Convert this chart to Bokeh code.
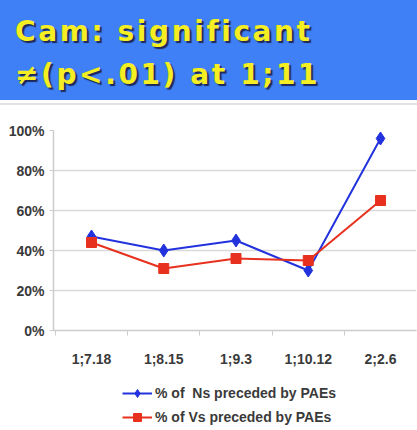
from bokeh.plotting import figure
from bokeh.models import (Range1d, FixedTicker, NumeralTickFormatter, Div,
                          Legend, LegendItem)
from bokeh.layouts import column
from bokeh.embed import file_html
from bokeh.resources import INLINE

# ---- data ----
categories = ["1;7.18", "1;8.15", "1;9.3", "1;10.12", "2;2.6"]
ns_pct = [0.47, 0.40, 0.45, 0.30, 0.96]
vs_pct = [0.44, 0.31, 0.36, 0.35, 0.65]
y_ticks = [0.0, 0.2, 0.4, 0.6, 0.8, 1.0]
title_lines = ["Cam: significant", "\u2260(p&lt;.01) at 1;11"]
series_labels = ["% of  Ns preceded by PAEs", "% of Vs preceded by PAEs"]

FONT = "Liberation Sans"
BLUE = "#2233dd"
RED = "#e8301e"
YELLOW = "#f4ee22"
BANNER = "#3f80f7"
W = 417

# ---- banner (HTML text, yellow with shadow on blue) ----
banner_html = (
    f'<div style="box-sizing:border-box;width:{W}px;height:100px;background:{BANNER};'
    'padding:10px 0 0 15px;margin:0;font-family:\'DejaVu Sans\';font-weight:bold;'
    f'font-size:28px;letter-spacing:2.6px;line-height:43px;color:{YELLOW};'
    'text-shadow:2px 2px 1px rgba(25,25,60,0.85);white-space:nowrap;">'
    + "<br>".join(title_lines) +
    '</div><div style="height:3px;background:#ffffff"></div>'
    '<div style="height:2px;background:#e2e2e2"></div>'
)
banner = Div(text=banner_html, width=W, height=105, margin=0)

# ---- chart ----
idx = list(range(len(categories)))
p = figure(width=W, height=267, output_backend="svg", toolbar_location=None,
           x_range=Range1d(-0.526, 4.498), y_range=Range1d(0, 1),
           min_border_left=53, min_border_right=1, min_border_top=25,
           min_border_bottom=42, outline_line_color=None,
           background_fill_color="white", border_fill_color="white")

p.xgrid.visible = False
p.ygrid.ticker = FixedTicker(ticks=y_ticks)
p.ygrid.grid_line_color = "#d9d9d9"
p.ygrid.grid_line_width = 1.5

xa = p.xaxis[0]
xa.ticker = FixedTicker(ticks=idx, minor_ticks=[i - 0.5 for i in idx] + [len(idx) - 0.5])
xa.major_label_overrides = {i: c for i, c in zip(idx, categories)}
xa.major_tick_out = 0
xa.major_tick_in = 0
xa.minor_tick_out = 5
xa.minor_tick_in = 0
xa.minor_tick_line_color = "#cccccc"
xa.axis_line_color = "#cccccc"
xa.axis_line_width = 1.5
xa.major_label_standoff = 15

ya = p.yaxis[0]
ya.ticker = FixedTicker(ticks=y_ticks)
ya.formatter = NumeralTickFormatter(format="0%")
ya.major_tick_out = 4
ya.major_tick_in = 0
ya.minor_tick_out = 0
ya.minor_tick_in = 0
ya.major_tick_line_color = "#cccccc"
ya.axis_line_color = "#cccccc"
ya.axis_line_width = 1.5
ya.major_label_standoff = 5

for ax in (xa, ya):
    ax.major_label_text_font = FONT
    ax.major_label_text_font_style = "bold"
    ax.major_label_text_font_size = "14px"
    ax.major_label_text_color = "#3a3a3a"

p.line(idx, ns_pct, line_color=BLUE, line_width=2)
p.scatter(idx, ns_pct, marker="diamond", size=13, fill_color=BLUE, line_color=BLUE)
p.line(idx, vs_pct, line_color=RED, line_width=2)
p.scatter(idx, vs_pct, marker="square", size=10, fill_color=RED, line_color=RED)

# ---- legend panel: same series, drawn outside its visible range so only
#      the legend entries show ----
lf = figure(width=W, height=58, output_backend="svg", toolbar_location=None,
            x_range=Range1d(-20, -19), y_range=Range1d(-20, -19),
            x_axis_type=None, y_axis_type=None,
            min_border_left=53, min_border_right=1, min_border_top=0,
            min_border_bottom=0, outline_line_color=None)
lf.grid.visible = False
k1 = lf.line(idx, ns_pct, line_color=BLUE, line_width=2)
s1 = lf.scatter(idx, ns_pct, marker="diamond", size=13, fill_color=BLUE, line_color=BLUE)
k2 = lf.line(idx, vs_pct, line_color=RED, line_width=2)
s2 = lf.scatter(idx, vs_pct, marker="square", size=10, fill_color=RED, line_color=RED)

legend = Legend(items=[LegendItem(label=series_labels[0], renderers=[k1, s1]),
                       LegendItem(label=series_labels[1], renderers=[k2, s2])],
                location=(69, 3), orientation="vertical",
                glyph_width=30, glyph_height=20, label_height=20, spacing=4,
                label_standoff=3, padding=0, margin=0,
                label_text_font=FONT, label_text_font_style="bold",
                label_text_font_size="14px", label_text_color="#3a3a3a",
                border_line_color=None, background_fill_alpha=0)
lf.add_layout(legend, "center")

layout = column(banner, p, lf, spacing=0)
open("out.html", "w").write(file_html(layout, INLINE))
